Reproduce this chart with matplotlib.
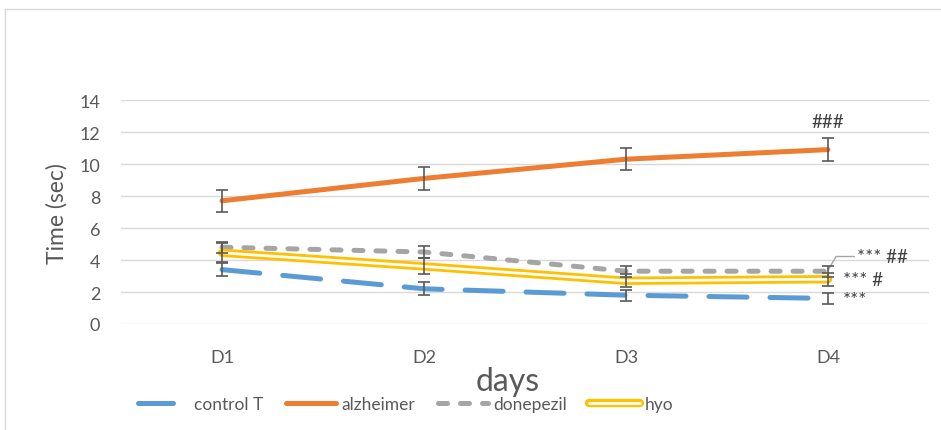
import matplotlib
matplotlib.use("Agg")
import matplotlib.pyplot as plt
from matplotlib.lines import Line2D

# ---- data ----
days = ["D1", "D2", "D3", "D4"]
control_t = [3.4, 2.2, 1.8, 1.6]
control_t_err = [0.4, 0.4, 0.35, 0.35]
alzheimer = [7.7, 9.1, 10.3, 10.9]
alzheimer_err = [0.7, 0.7, 0.7, 0.7]
donepezil = [4.8, 4.5, 3.3, 3.3]
donepezil_err = [0.35, 0.4, 0.35, 0.35]
hyo = [4.45, 3.6, 2.7, 2.8]
hyo_err = [0.6, 0.5, 0.4, 0.4]
y_ticks = [0, 2, 4, 6, 8, 10, 12, 14]

BLUE = "#5B9BD5"
ORANGE = "#ED7D31"
GREY = "#A5A5A5"
GOLD = "#FFC000"
TXT = "#595959"
DARK = "#404040"
GRID = "#D9D9D9"

plt.rcParams["font.family"] = ["Lato", "DejaVu Sans"]

fig = plt.figure(figsize=(9.41, 4.31), dpi=100)
ax = fig.add_axes([121 / 941, 106 / 431, 808 / 941, 224 / 431])

x = list(range(len(days)))

# lines
ax.plot(x, control_t, color=BLUE, lw=3.6, solid_capstyle="round",
        dash_capstyle="round", dashes=(7.6, 4.6), zorder=3)
ax.plot(x, alzheimer, color=ORANGE, lw=3.6, solid_capstyle="round", zorder=3)
ax.plot(x, donepezil, color=GREY, lw=3.6, dash_capstyle="round",
        dashes=(1.8, 2.6), zorder=3)
ax.plot(x, hyo, color=GOLD, lw=6.0, solid_capstyle="round", zorder=3)
ax.plot(x, hyo, color="white", lw=2.0, solid_capstyle="round", zorder=3.1)

# error bars
for vals, errs in [(control_t, control_t_err), (alzheimer, alzheimer_err),
                   (donepezil, donepezil_err), (hyo, hyo_err)]:
    ax.errorbar(x, vals, yerr=errs, fmt="none", ecolor=TXT, elinewidth=1.2,
                capsize=4, capthick=1.2, zorder=4)

ax.set_xlim(-0.5, len(days) - 0.5)
ax.set_ylim(0, 14)
ax.set_yticks(y_ticks)
ax.set_yticklabels([str(t) for t in y_ticks])
ax.set_xticks(x)
ax.set_xticklabels(days)
ax.grid(axis="y", color=GRID, lw=1.0, zorder=0)
ax.set_axisbelow(True)
for s in ax.spines.values():
    s.set_visible(False)
ax.tick_params(axis="both", length=0, labelsize=13, colors=TXT)
ax.tick_params(axis="y", pad=15)
ax.tick_params(axis="x", pad=18)

# significance marks
ax.annotate("###", xy=(3, alzheimer[3] + alzheimer_err[3]), xytext=(0, 12),
            textcoords="offset points", ha="center", va="center",
            fontsize=13.5, color=DARK)
ax.annotate("*** ##", xy=(3, donepezil[3] + 0.05), xytext=(21, 10),
            textcoords="offset points", ha="left", va="center",
            fontsize=13.5, color=DARK,
            arrowprops=dict(arrowstyle="-", color=GREY, lw=1.0,
                            shrinkA=0, shrinkB=0,
                            connectionstyle="angle,angleA=0,angleB=60,rad=0"))
ax.annotate("*** #", xy=(3, hyo[3]), xytext=(11, 0),
            textcoords="offset points", ha="left", va="center",
            fontsize=13.5, color=DARK)
ax.annotate("***", xy=(3, control_t[3]), xytext=(11, -1),
            textcoords="offset points", ha="left", va="center",
            fontsize=13.5, color=DARK)

# axis titles
fig.text(57 / 941, 1 - 214 / 431, "Time (sec)", rotation=90, ha="center",
         va="center", fontsize=16.5, color=TXT)
fig.text(508 / 941, 1 - 382 / 431, "days", ha="center", va="center",
         fontsize=23, color=TXT)

# legend
h_ctrl = Line2D([], [], color=BLUE, lw=3.6, dash_capstyle="round",
                dashes=(7.0, 3.6))
h_alz = Line2D([], [], color=ORANGE, lw=3.6, solid_capstyle="round")
h_don = Line2D([], [], color=GREY, lw=3.6, dash_capstyle="round",
               dashes=(1.8, 2.6))
h_hyo = (Line2D([], [], color=GOLD, lw=6.0, solid_capstyle="round"),
         Line2D([], [], color="white", lw=2.0, solid_capstyle="round"))
leg = fig.legend([h_ctrl, h_alz, h_don, h_hyo],
                 ["control T", "alzheimer", "donepezil", "hyo"],
                 loc="center", bbox_to_anchor=(406 / 941, 1 - 405 / 431),
                 ncol=4, frameon=False, fontsize=12.5, handlelength=2.9,
                 handletextpad=0.3, columnspacing=1.3)
for t in leg.get_texts():
    t.set_color(TXT)

# chart frame
fig.add_artist(Line2D([5 / 941, 1], [1 - 10 / 431, 1 - 10 / 431],
                      transform=fig.transFigure, color=GRID, lw=1.0))
fig.add_artist(Line2D([5 / 941, 5 / 941], [0, 1 - 10 / 431],
                      transform=fig.transFigure, color=GRID, lw=1.0))

fig.savefig("out.png", dpi=100)
